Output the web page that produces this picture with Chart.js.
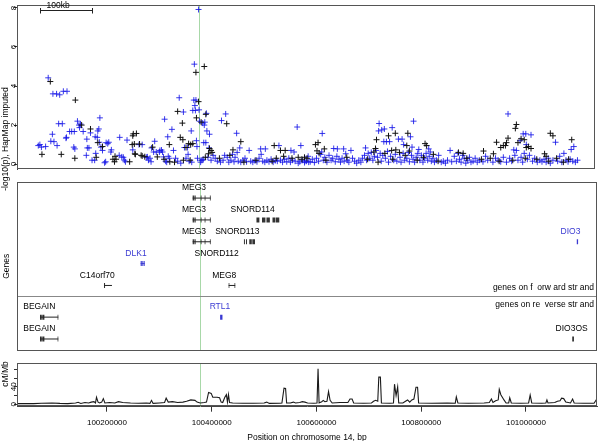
<!DOCTYPE html>
<html><head><meta charset="utf-8">
<script src="https://cdn.jsdelivr.net/npm/chart.js@4.4.1/dist/chart.umd.min.js"></script>
<style>
html,body{margin:0;padding:0;background:#fff;}
#wrap{position:relative;width:600px;height:441px;overflow:hidden;background:#fff;}
canvas{position:absolute;left:0;}
</style></head><body>
<div id="wrap">
<canvas id="assoc" style="top:0px" width="600" height="200"></canvas>
<canvas id="genes" style="top:178px" width="600" height="176"></canvas>
<canvas id="recomb" style="top:360px" width="600" height="81"></canvas>
</div>
<script>
// ---------------- data ----------------
const xLimitsBp = [100028200, 101135600];
const xTickValues = [100200000, 100400000, 100600000, 100800000, 101000000];
const assocTickValues = [0, 2, 4, 6, 8];
const recombTickValues = [0, 20, 40, 60, 80];
const recombTickLabels = ['0', '', '40', '', ''];
const focusSnpKb = 100377.6;
const scaleBarKb = 100;

// genotyped SNPs (black): [position kb, -log10 p]
const typedSnps = [[100076,0.5],[100092,4.23],[100113,0.5],[100139,0.3],[100140,3.28],[100152,2.0],[100169,1.8],[100180,0.35],[100183,1.1],[100192,0.9],[100212,0.25],[100215,0.12],[100216,0.4],[100218,0.25],[100244,0.12],[100249,1.0],[100250,1.45],[100251,1.55],[100253,1.03],[100254,0.53],[100255,0.5],[100257,1.57],[100263,1.03],[100266,0.45],[100268,0.42],[100273,0.38],[100288,0.87],[100297,0.37],[100310,0.25],[100320,1.0],[100321,0.12],[100330,0.1],[100336,2.7],[100341,1.37],[100345,2.1],[100346,1.25],[100347,0.2],[100352,0.85],[100357,1.05],[100360,0.2],[100361,1.0],[100365,1.05],[100371,4.7],[100372,2.37],[100376,3.2],[100381,2.15],[100387,5.0],[100389,0.35],[100390,2.55],[100395,0.53],[100397,0.8],[100400,0.7],[100402,0.6],[100416,0.3],[100430,2.07],[100436,0.45],[100442,0.73],[100457,1.15],[100463,0.1],[100486,0.2],[100517,0.15],[100521,0.95],[100525,0.3],[100533,0.7],[100539,0.4],[100542,0.7],[100555,0.3],[100567,0.35],[100574,0.25],[100579,0.35],[100584,0.3],[100600,1.0],[100603,0.68],[100605,1.1],[100607,0.55],[100617,0.78],[100620,0.2],[100660,0.35],[100700,0.25],[100712,0.62],[100715,0.8],[100717,1.25],[100720,0.1],[100733,0.55],[100740,1.45],[100746,0.7],[100748,0.25],[100753,1.58],[100754,0.73],[100761,0.6],[100772,0.45],[100775,0.95],[100777,1.58],[100780,0.67],[100795,0.2],[100807,0.35],[100810,1.05],[100813,0.95],[100826,0.5],[100835,0.15],[100874,0.6],[100883,0.55],[100890,0.3],[100918,0.25],[100922,0.67],[100935,0.3],[100941,0.53],[100947,1.12],[100952,0.15],[100955,0.85],[100960,0.95],[100964,0.95],[100966,1.1],[100969,1.33],[100978,0.2],[100983,1.83],[100985,2.03],[100988,1.1],[100994,1.3],[101000,1.25],[101002,0.3],[101004,0.85],[101008,0.9],[101013,0.8],[101024,0.25],[101039,0.53],[101042,0.4],[101047,0.15],[101050,1.58],[101055,1.45],[101062,0.3],[101075,0.1],[101085,0.25],[101091,1.25]];

// imputed SNPs (blue): [position kb, -log10 p]
const imputedSnps = [[100069,0.95],[100072,1.0],[100075,0.87],[100083,0.9],[100088,4.42],[100093,1.17],[100096,1.53],[100097,3.6],[100099,1.15],[100104,3.6],[100105,0.95],[100108,2.07],[100110,3.55],[100115,2.07],[100117,3.73],[100122,1.33],[100123,1.37],[100124,3.73],[100129,1.67],[100133,1.67],[100137,0.87],[100138,1.67],[100139,0.78],[100144,2.2],[100147,2.0],[100148,1.87],[100150,2.05],[100155,1.67],[100161,0.45],[100162,1.28],[100163,0.83],[100166,0.83],[100169,1.6],[100172,0.2],[100177,0.2],[100178,1.4],[100179,0.55],[100182,1.37],[100183,1.7],[100185,1.8],[100186,1.12],[100187,2.37],[100189,0.87],[100192,0.7],[100196,0.07],[100198,0.12],[100199,1.1],[100202,1.05],[100204,1.12],[100208,0.62],[100209,0.73],[100224,0.45],[100225,1.37],[100229,0.37],[100232,0.35],[100234,0.2],[100236,0.12],[100239,1.23],[100250,0.73],[100262,1.0],[100268,1.0],[100276,0.35],[100278,0.37],[100280,0.2],[100283,0.3],[100285,0.12],[100286,0.83],[100290,0.62],[100292,1.17],[100295,0.62],[100301,0.62],[100302,0.7],[100305,0.72],[100307,0.62],[100309,0.37],[100311,2.3],[100313,0.15],[100315,0.1],[100317,1.4],[100318,0.4],[100320,0.3],[100325,1.78],[100328,0.7],[100332,0.3],[100336,0.15],[100339,3.4],[100342,0.05],[100347,2.67],[100349,0.85],[100352,0.3],[100355,0.85],[100356,0.5],[100358,0.15],[100362,1.7],[100363,0.1],[100365,2.75],[100367,3.28],[100368,5.12],[100369,3.0],[100370,2.75],[100371,3.28],[100372,1.2],[100373,0.9],[100374,0.3],[100376,7.92],[100377,2.78],[100378,2.2],[100380,0.1],[100381,0.2],[100383,0.2],[100384,2.1],[100385,0.25],[100386,1.1],[100387,2.0],[100388,2.15],[100390,1.1],[100391,2.6],[100392,1.7],[100394,0.35],[100396,0.83],[100397,1.53],[100400,0.2],[100404,0.45],[100408,0.3],[100412,0.15],[100418,0.1],[100420,2.23],[100423,0.2],[100426,0.45],[100428,2.57],[100431,0.35],[100434,0.1],[100438,0.2],[100441,0.5],[100444,0.12],[100446,0.35],[100449,1.58],[100450,0.6],[100452,0.15],[100455,0.83],[100457,0.1],[100461,0.2],[100465,0.3],[100468,0.12],[100473,0.7],[100476,0.15],[100480,0.1],[100484,0.18],[100488,0.12],[100492,0.3],[100495,0.78],[100496,0.5],[100499,0.15],[100503,0.1],[100504,0.78],[100507,0.2],[100511,0.12],[100515,0.25],[100519,0.1],[100523,0.18],[100527,0.15],[100530,0.95],[100533,0.2],[100537,0.1],[100541,0.25],[100545,0.12],[100549,0.3],[100552,0.1],[100553,0.7],[100556,0.2],[100559,0.62],[100561,0.15],[100565,1.9],[100567,0.05],[100570,0.12],[100572,0.95],[100575,0.2],[100579,0.08],[100580,0.15],[100583,0.15],[100586,0.4],[100587,0.1],[100590,0.12],[100594,0.25],[100598,0.08],[100602,0.3],[100606,0.15],[100610,0.5],[100612,0.62],[100613,1.57],[100615,0.2],[100618,0.35],[100622,0.1],[100626,0.45],[100630,0.2],[100633,0.3],[100635,0.8],[100638,0.12],[100641,0.4],[100642,0.78],[100645,0.25],[100648,0.1],[100651,0.3],[100654,0.78],[100655,0.15],[100658,0.53],[100661,0.2],[100664,0.1],[100668,0.7],[100671,0.3],[100675,0.15],[100679,0.05],[100683,0.2],[100687,0.1],[100690,0.3],[100694,0.45],[100696,0.83],[100698,0.2],[100701,0.55],[100704,0.3],[100707,0.6],[100710,0.2],[100713,0.4],[100716,0.7],[100719,0.35],[100721,1.7],[100722,2.08],[100724,0.55],[100726,0.15],[100727,1.75],[100729,0.45],[100731,1.15],[100732,1.8],[100734,0.3],[100736,1.15],[100738,0.65],[100740,0.1],[100742,1.15],[100744,0.4],[100747,1.87],[100750,0.2],[100753,0.5],[100756,0.15],[100759,1.28],[100762,0.35],[100764,0.1],[100766,1.28],[100768,0.55],[100769,1.0],[100771,0.2],[100775,0.3],[100778,0.6],[100780,0.12],[100782,1.4],[100784,0.45],[100785,0.87],[100787,0.25],[100788,2.2],[100790,0.1],[100793,0.35],[100796,0.55],[100798,0.75],[100800,0.2],[100803,0.45],[100806,0.1],[100809,0.3],[100812,0.55],[100815,0.2],[100817,0.78],[100818,0.4],[100820,0.62],[100822,0.15],[100825,0.3],[100828,0.1],[100832,0.2],[100836,0.45],[100841,0.1],[100845,0.15],[100849,0.05],[100853,0.2],[100858,0.7],[100861,0.12],[100866,0.4],[100870,0.15],[100873,0.55],[100876,0.25],[100879,0.1],[100882,0.45],[100885,0.3],[100888,0.05],[100891,0.2],[100895,0.35],[100898,0.1],[100902,0.15],[100906,0.3],[100910,0.1],[100914,0.2],[100921,0.12],[100926,0.4],[100930,0.2],[100940,0.1],[100945,0.3],[100950,0.2],[100955,0.12],[100960,0.35],[100966,0.1],[100969,2.57],[100972,0.3],[100976,0.15],[100980,0.73],[100982,0.45],[100985,0.7],[100988,0.2],[100992,1.2],[100994,0.35],[100997,0.1],[100998,1.55],[101000,0.55],[101003,1.55],[101004,1.0],[101006,0.25],[101010,0.45],[101013,1.5],[101016,0.15],[101020,0.3],[101025,0.1],[101030,0.2],[101034,0.12],[101038,0.25],[101042,0.1],[101046,0.3],[101050,0.05],[101055,0.2],[101060,1.12],[101064,0.15],[101068,0.4],[101072,0.1],[101076,0.55],[101080,0.2],[101084,0.12],[101088,0.25],[101090,0.75],[101093,0.15],[101095,0.9],[101098,0.1],[101102,0.2]];

// recombination rate (cM/Mb): [position kb, rate]
const recombRate = [[100028,1.5],[100060,1.5],[100075,2.5],[100095,3],[100110,2],[100125,1.5],[100140,3],[100145,4.5],[100150,2],[100158,4],[100165,3],[100170,5],[100175,6],[100178,3],[100180,16],[100183,5],[100186,3],[100190,5],[100193,13],[100196,3],[100205,4],[100215,3],[100222,6],[100230,4],[100245,3],[100260,2.5],[100275,3],[100282,2],[100285,9],[100288,2],[100300,3],[100310,4],[100313,14],[100317,5],[100325,6],[100335,4],[100345,5],[100352,7],[100360,10],[100368,9],[100372,5],[100378,3],[100386,4],[100390,5],[100394,27],[100399,25],[100402,16],[100410,16],[100415,15],[100418,5],[100421,4],[100425,16],[100428,22],[100430,5],[100432,22],[100434,4],[100440,3],[100460,2.5],[100480,2.5],[100500,3],[100505,5],[100510,2],[100530,2.5],[100534,3],[100538,37],[100541,36],[100543,3],[100550,3],[100556,5],[100560,3],[100568,4],[100573,6],[100578,5],[100583,3],[100595,2.5],[100601,3],[100603,81],[100605,3],[100610,6],[100613,9],[100616,6],[100620,7],[100623,29],[100626,9],[100630,3],[100645,4],[100660,4],[100664,12],[100668,12],[100671,3],[100690,2.5],[100705,3],[100709,7],[100713,9],[100717,7],[100719,62],[100722,62],[100724,3],[100740,2.5],[100747,3],[100749,46],[100752,20],[100755,40],[100757,3],[100765,3],[100770,7],[100774,10],[100778,5],[100782,10],[100786,12],[100790,39],[100793,39],[100795,3],[100820,2.5],[100850,3],[100865,2.5],[100867,17],[100870,3],[100890,2.5],[100920,3],[100930,4],[100934,12],[100937,4],[100942,8],[100947,10],[100949,34],[100952,22],[100958,10],[100962,3],[100967,3],[100969,15],[100972,3],[100990,2.5],[101005,3],[101008,21],[101011,3],[101030,2.5],[101038,3],[101040,10],[101042,3],[101055,4],[101060,7],[101065,8],[101068,14],[101072,13],[101076,5],[101085,3],[101089,12],[101092,3],[101110,2.5],[101130,2.5],[101134,10],[101136,3]];

// genes: track row, intron span (kb), exons (kb), label anchor (kb)
const genes = [
  {name:'MEG3', row:7, hl:false, span:[100363.6,100398.0], exons:[[100363.6,100366],[100367,100369.3],[100372,100373.5],[100379,100380.5],[100386.5,100388],[100396.5,100398]], label:100366.1},
  {name:'MEG3', row:6, hl:false, span:[100363.6,100398.0], exons:[[100363.6,100366],[100367,100369.3],[100372,100373.5],[100379,100380.5],[100386.5,100388],[100396.5,100398]], label:100366.1},
  {name:'MEG3', row:5, hl:false, span:[100363.6,100398.0], exons:[[100363.6,100366],[100367,100369.3],[100372,100373.5],[100379,100380.5],[100386.5,100388],[100396.5,100398]], label:100366.1},
  {name:'SNORD114', row:6, hl:false, span:null, exons:[[100485.4,100491],[100496,100502.5],[100504.5,100511],[100516,100521.5],[100522.5,100529]], label:100478.2},
  {name:'SNORD113', row:5, hl:false, span:null, exons:[[100461.5,100463.4],[100465.4,100467.3],[100471.7,100476.5],[100477.5,100482.6]], label:100448.8},
  {name:'SNORD112', row:4, hl:false, span:null, exons:[[100433,100434.3]], label:100409.5},
  {name:'DLK1', row:4, hl:true, span:[100264.3,100272], exons:[[100264.3,100266.5],[100267.5,100269],[100270,100272]], label:100255.4},
  {name:'C14orf70', row:3, hl:false, span:[100194.3,100209.5], exons:[[100194.3,100196.3],[100208,100209.5]], label:100181.5},
  {name:'MEG8', row:3, hl:false, span:[100432.3,100444.9], exons:[[100432.3,100433.7],[100437,100438.3],[100443.5,100444.9]], label:100424.0},
  {name:'DIO3', row:5, hl:true, span:null, exons:[[101097,101099.5]], label:101085.0},
  {name:'BEGAIN', row:1.55, hl:false, span:[100072.1,100107.1], exons:[[100072.1,100075.5],[100076.5,100080.5],[100105.7,100107.1]], label:100070.8},
  {name:'BEGAIN', row:0.55, hl:false, span:[100072.1,100107.1], exons:[[100072.1,100075.5],[100076.5,100080.5],[100105.7,100107.1]], label:100070.8},
  {name:'RTL1', row:1.55, hl:true, span:null, exons:[[100416,100420.5]], label:100415.7},
  {name:'DIO3OS', row:0.55, hl:false, span:null, exons:[[101088.3,101091.6]], label:101087.1}
];
const strandDivider = 2.52;
const strandTexts = [['genes on f  orw ard str and', 2.88], ['genes on re  verse str and', 2.1]];

// ---------------- helpers ----------------
const FONT = '"Liberation Sans", Arial, Helvetica, sans-serif';
const BLUE = 'rgba(22,22,232,0.85)';
const GENE_BLUE = '#3a3ad2';
function vtext(ctx, text, x, y, size, color, align) {
  ctx.save();
  ctx.translate(x, y);
  ctx.rotate(-Math.PI / 2);
  ctx.font = size + 'px ' + FONT;
  ctx.fillStyle = color || '#000';
  ctx.textAlign = align || 'center';
  ctx.textBaseline = 'middle';
  ctx.fillText(text, 0, 0);
  ctx.restore();
}
const frame = {
  id: 'frame',
  afterDraw(chart) {
    const {ctx, chartArea: a} = chart;
    ctx.save();
    ctx.strokeStyle = '#555';
    ctx.lineWidth = 1;
    ctx.strokeRect(Math.round(a.left) + 0.5, Math.round(a.top) + 0.5, Math.round(a.right - a.left) - 1, Math.round(a.bottom - a.top) - 1);
    ctx.restore();
  }
};
const focusLine = {
  id: 'focusLine',
  beforeDatasetsDraw(chart) {
    const {ctx, chartArea: a, scales: {x}} = chart;
    const px = Math.round(x.getPixelForValue(focusSnpKb * 1000)) + 0.5;
    ctx.save();
    ctx.strokeStyle = '#a8d8a8';
    ctx.lineWidth = 1;
    ctx.beginPath();
    ctx.moveTo(px, a.top);
    ctx.lineTo(px, a.bottom);
    ctx.stroke();
    ctx.restore();
  }
};
const xScaleOpts = {type: 'linear', min: xLimitsBp[0], max: xLimitsBp[1], display: false};

// ---------------- panel 1: association ----------------
new Chart(document.getElementById('assoc'), {
  type: 'scatter',
  data: {datasets: [
    {label: 'genotyped', data: typedSnps.map(([kb, p]) => ({x: kb * 1000, y: p})), pointStyle: 'cross', pointRadius: 3, borderColor: '#111', borderWidth: 1},
    {label: 'imputed', data: imputedSnps.map(([kb, p]) => ({x: kb * 1000, y: p})), pointStyle: 'cross', pointRadius: 3, borderColor: BLUE, borderWidth: 1}
  ]},
  options: {
    responsive: false, animation: false, devicePixelRatio: 1,
    layout: {padding: {top: 1, right: 3, bottom: 31, left: 0}},
    plugins: {legend: {display: false}, tooltip: {enabled: false}},
    scales: {
      x: xScaleOpts,
      y: {
        min: -0.25, max: 8.15,
        afterBuildTicks: s => { s.ticks = assocTickValues.map(v => ({value: v})); },
        afterFit: s => { s.width = 17; },
        ticks: {display: false},
        grid: {drawOnChartArea: false, drawTicks: true, tickLength: 3, color: '#333'},
        border: {display: true, color: '#444'}
      }
    }
  },
  plugins: [frame, focusLine, {
    id: 'assocText',
    afterDraw(chart) {
      const {ctx, chartArea: a, scales: {x, y}} = chart;
      y.ticks.forEach(t => vtext(ctx, String(t.value), 13.5, y.getPixelForValue(t.value), 8, '#000'));
      vtext(ctx, '-log10(p), HapMap imputed', 6, 139, 8.5, '#000');
      // 100kb scale bar
      const x0 = a.left + 23;
      const v0 = x.getValueForPixel(x0);
      const x1 = x.getPixelForValue(v0 + scaleBarKb * 1000);
      ctx.save();
      ctx.strokeStyle = '#222'; ctx.lineWidth = 1;
      ctx.beginPath();
      ctx.moveTo(x0, 10.5); ctx.lineTo(x1, 10.5);
      ctx.moveTo(Math.round(x0) + 0.5, 8); ctx.lineTo(Math.round(x0) + 0.5, 13.5);
      ctx.moveTo(Math.round(x1) + 0.5, 8); ctx.lineTo(Math.round(x1) + 0.5, 13.5);
      ctx.stroke();
      ctx.font = '8.5px ' + FONT; ctx.fillStyle = '#000'; ctx.textAlign = 'left'; ctx.textBaseline = 'middle';
      ctx.fillText(scaleBarKb + 'kb', x0 + 6.5, 6);
      ctx.restore();
    }
  }]
});

// ---------------- panel 2: genes ----------------
const geneDatasets = [];
genes.forEach(g => {
  const col = g.hl ? GENE_BLUE : '#222';
  if (g.span) {
    geneDatasets.push({data: [{x: g.span[0] * 1000, y: g.row}, {x: g.span[1] * 1000, y: g.row}], showLine: true, borderColor: col, borderWidth: 1, pointRadius: 0});
  }
  const pts = [];
  g.exons.forEach(([s, e]) => { pts.push({x: s * 1000, y: g.row}, {x: e * 1000, y: g.row}, {x: e * 1000, y: null}); });
  geneDatasets.push({data: pts, showLine: true, spanGaps: false, borderColor: g.hl ? GENE_BLUE : '#333', borderWidth: 5, borderCapStyle: 'butt', pointRadius: 0});
});
new Chart(document.getElementById('genes'), {
  type: 'scatter',
  data: {datasets: geneDatasets},
  options: {
    responsive: false, animation: false, devicePixelRatio: 1,
    layout: {padding: {top: 3.7, right: 3, bottom: 3, left: 17}},
    plugins: {legend: {display: false}, tooltip: {enabled: false}},
    scales: {x: xScaleOpts, y: {min: 0, max: 7.75, display: false}}
  },
  plugins: [frame, focusLine, {
    id: 'geneText',
    beforeDatasetsDraw(chart) {
      const {ctx, chartArea: a, scales: {y}} = chart;
      const py = Math.round(y.getPixelForValue(strandDivider)) + 0.5;
      ctx.save(); ctx.strokeStyle = '#888'; ctx.lineWidth = 1;
      ctx.beginPath(); ctx.moveTo(a.left, py); ctx.lineTo(a.right, py); ctx.stroke(); ctx.restore();
    },
    afterDraw(chart) {
      const {ctx, chartArea: a, scales: {x, y}} = chart;
      ctx.save();
      ctx.font = '8.5px ' + FONT; ctx.textBaseline = 'middle';
      ctx.textAlign = 'center';
      genes.forEach(g => {
        ctx.fillStyle = g.hl ? GENE_BLUE : '#000';
        ctx.fillText(g.name, x.getPixelForValue(g.label * 1000), y.getPixelForValue(g.row) - 10);
      });
      ctx.fillStyle = '#000'; ctx.textAlign = 'right';
      strandTexts.forEach(([t, r]) => ctx.fillText(t, a.right - 3, y.getPixelForValue(r)));
      ctx.restore();
      vtext(ctx, 'Genes', 6.5, (a.top + a.bottom) / 2, 8.5, '#000');
    }
  }]
});

// ---------------- panel 3: recombination ----------------
new Chart(document.getElementById('recomb'), {
  type: 'scatter',
  data: {datasets: [{data: recombRate.map(([kb, r]) => ({x: kb * 1000, y: r})), showLine: true, borderColor: '#1a1a1a', borderWidth: 1.1, pointRadius: 0, tension: 0}]},
  options: {
    responsive: false, animation: false, devicePixelRatio: 1,
    layout: {padding: {top: 3.3, right: 3, bottom: 0, left: 0}},
    plugins: {legend: {display: false}, tooltip: {enabled: false}},
    scales: {
      x: {
        type: 'linear', min: xLimitsBp[0], max: xLimitsBp[1],
        afterBuildTicks: s => { s.ticks = xTickValues.map(v => ({value: v})); },
        afterFit: s => { s.height = 34.3; },
        ticks: {callback: v => String(v), font: {size: 8, family: FONT}, color: '#000', padding: 6.5, maxRotation: 0, autoSkip: false},
        grid: {drawOnChartArea: false, drawTicks: true, tickLength: 5, color: '#333'},
        border: {display: true, color: '#444'},
        title: {display: true, text: 'Position on chromosome 14, bp', font: {size: 8.5, family: FONT}, color: '#000', padding: {top: 0, bottom: -2}}
      },
      y: {
        min: -5.5, max: 93.7,
        afterBuildTicks: s => { s.ticks = recombTickValues.map(v => ({value: v})); },
        afterFit: s => { s.width = 17; },
        ticks: {display: false},
        grid: {drawOnChartArea: false, drawTicks: true, tickLength: 3, color: '#333'},
        border: {display: true, color: '#444'}
      }
    }
  },
  plugins: [frame, focusLine, {
    id: 'recombText',
    afterDraw(chart) {
      const {ctx, scales: {y}} = chart;
      recombTickValues.forEach((v, i) => { if (recombTickLabels[i]) vtext(ctx, recombTickLabels[i], 13.5, y.getPixelForValue(v), 8, '#000'); });
      vtext(ctx, 'cM/Mb', 6, 14, 8.5, '#000');
    }
  }]
});
</script>
</body></html>
